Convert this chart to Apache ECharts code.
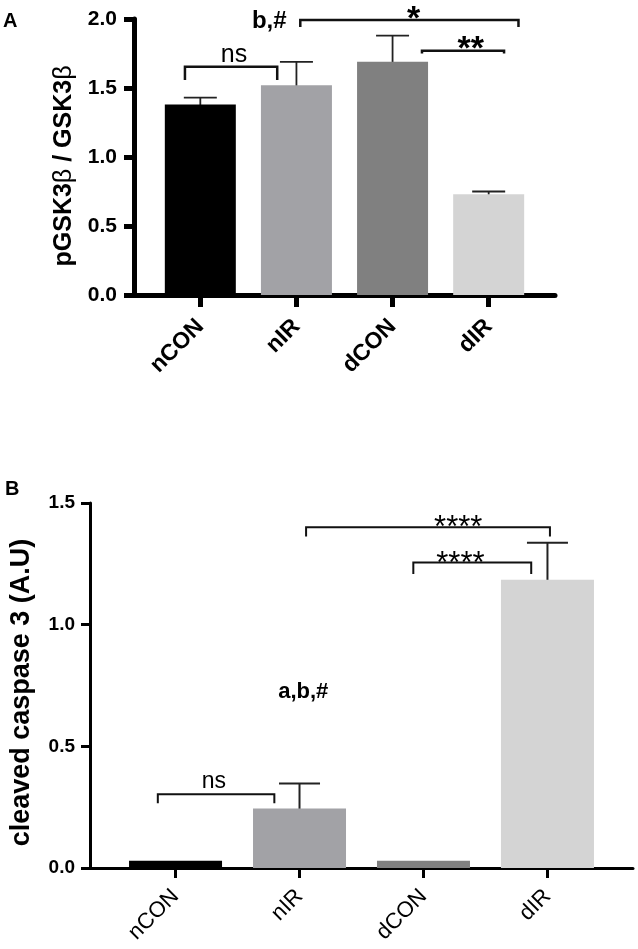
<!DOCTYPE html>
<html>
<head>
<meta charset="utf-8">
<script src="https://cdn.jsdelivr.net/npm/echarts@6/dist/echarts.min.js"></script>
<style>
html,body{margin:0;padding:0;background:#fff;}
#chart{width:638px;height:949px;}
</style>
</head>
<body>
<div id="chart"></div>
<script>
// ---------- data ----------
const categories = ['nCON', 'nIR', 'dCON', 'dIR'];
const catIndex = [0, 1, 2, 3];

// Panel A: pGSK3β / GSK3β
const ratioMeanA = [1.38, 1.52, 1.69, 0.73];
const ratioErrTopA = [1.43, 1.69, 1.88, 0.75];
const yTicksA = [0, 0.5, 1.0, 1.5, 2.0];

// Panel B: cleaved caspase 3 (A.U)
const caspMeanB = [0.03, 0.245, 0.03, 1.185];
const caspErrTopB = [0.03, 0.347, 0.018, 1.337];
const yTicksB = [0, 0.5, 1.0, 1.5];

// significance brackets: [x start, x end, top level, leg end level] in axis units
const bracketsA = [
  [-0.16, 0.80, 1.654, 1.558],
  [1.04, 3.31, 1.993, 1.942],
  [2.306, 3.16, 1.770, 1.750]
];
const notesA = [
  [0.35, 1.74, 'ns'],
  [0.717, 1.986, 'b,#'],
  [2.22, 2.058, '*'],
  [2.813, 1.84, '**']
];
const bracketsB = [
  [-0.143, 0.797, 0.303, 0.266],
  [1.053, 3.02, 1.400, 1.362],
  [1.918, 2.869, 1.255, 1.208]
];
const notesB = [
  [0.31, 0.355, 'ns'],
  [2.28, 1.427, '****'],
  [2.298, 1.279, '****'],
  [1.03, 0.725, 'a,b,#']
];

// ---------- styles ----------
const FONT = '"Liberation Sans", Arial, sans-serif';
const barColors = ['#000000', '#a2a2a6', '#808080', '#d4d4d4'];

function noteStyle(txt, panel) {
  if (txt === 'ns') return {fontSize: panel === 'A' ? 25 : 23, fontWeight: 'normal', dy: 0};
  if (txt.indexOf('*') === 0) {
    const fs = panel === 'A' ? 34 : 31;
    return {fontSize: fs, fontWeight: panel === 'A' ? 'bold' : 'normal', dy: 0.24 * fs};
  }
  return {fontSize: panel === 'A' ? 24 : 22, fontWeight: 'bold', dy: 0};
}

function bracketSeries(gi, list, lw) {
  return {
    type: 'custom', xAxisIndex: gi, yAxisIndex: gi, clip: false, silent: true,
    data: list,
    encode: {x: [0, 1], y: [2, 3]},
    renderItem: function (params, api) {
      const x1 = api.value(0), x2 = api.value(1), yt = api.value(2), yl = api.value(3);
      const a = api.coord([x1, yl]), b = api.coord([x1, yt]), c = api.coord([x2, yt]), d = api.coord([x2, yl]);
      return {type: 'polyline', shape: {points: [a, b, c, d]},
        style: {stroke: '#111', lineWidth: lw, fill: null}};
    }
  };
}

function noteSeries(gi, list, panel) {
  return {
    type: 'custom', xAxisIndex: gi, yAxisIndex: gi, clip: false, silent: true,
    data: list.map(n => [n[0], n[1]]),
    encode: {x: 0, y: 1},
    renderItem: function (params, api) {
      const n = list[params.dataIndex];
      const p = api.coord([n[0], n[1]]);
      const st = noteStyle(n[2], panel);
      return {type: 'text', x: p[0], y: p[1] + st.dy,
        style: {text: n[2], fontSize: st.fontSize, fontWeight: st.fontWeight, fontFamily: FONT,
          fill: '#000', align: 'center', verticalAlign: 'middle'}};
    }
  };
}

function errSeries(gi, means, tops, capW, lw) {
  return {
    type: 'custom', xAxisIndex: gi, yAxisIndex: gi, clip: false, silent: true,
    data: catIndex.map(i => [i, means[i], tops[i]]),
    encode: {x: 0, y: [1, 2]},
    renderItem: function (params, api) {
      const x = api.value(0), m = api.value(1), t = api.value(2);
      if (m === t) return null;
      const pm = api.coord([x, m]), pt = api.coord([x, t]);
      const up = pt[1] < pm[1];
      const children = [
        {type: 'line', shape: {x1: pt[0] - capW / 2, y1: pt[1], x2: pt[0] + capW / 2, y2: pt[1]},
          style: {stroke: '#222', lineWidth: lw}}
      ];
      if (up) {
        children.push({type: 'line', shape: {x1: pm[0], y1: pm[1] + 4, x2: pt[0], y2: pt[1]},
          style: {stroke: '#222', lineWidth: lw}});
      }
      return {type: 'group', children: children};
    }
  };
}

function barSeries(gi, means, bw) {
  return {
    type: 'bar', xAxisIndex: gi, yAxisIndex: gi, barWidth: bw, silent: true,
    data: catIndex.map(i => ({value: [i, means[i]], itemStyle: {color: barColors[i]}}))
  };
}

const option = {
  animation: false,
  backgroundColor: '#fff',
  textStyle: {fontFamily: FONT},
  grid: [
    {left: 134, top: 19, width: 421, height: 276, containLabel: false},
    {left: 80, top: 503, width: 553, height: 365, containLabel: false}
  ],
  xAxis: [
    {
      type: 'value', gridIndex: 0, min: -0.69, max: 3.69,
      splitLine: {show: false},
      axisLine: {show: true, onZero: false, lineStyle: {color: '#000', width: 5}},
      axisTick: {show: true, customValues: catIndex, length: 12, lineStyle: {color: '#000', width: 5}},
      axisLabel: {customValues: catIndex, formatter: v => categories[Math.round(v)], rotate: 45,
        margin: 28, fontSize: 23, fontWeight: 'bold', color: '#000', fontFamily: FONT}
    },
    {
      type: 'value', gridIndex: 1, min: -0.69, max: 3.69,
      splitLine: {show: false},
      axisLine: {show: true, onZero: false, lineStyle: {color: '#000', width: 3}},
      axisTick: {show: true, customValues: catIndex, length: 10, lineStyle: {color: '#000', width: 3}},
      axisLabel: {customValues: catIndex, formatter: v => categories[Math.round(v)], rotate: 45,
        margin: 25, fontSize: 22, fontWeight: 'normal', color: '#000', fontFamily: FONT}
    }
  ],
  yAxis: [
    {
      type: 'value', gridIndex: 0, min: 0, max: 2,
      splitLine: {show: false},
      axisLine: {show: true, onZero: false, lineStyle: {color: '#000', width: 5}},
      axisTick: {show: true, customValues: yTicksA, length: 10, lineStyle: {color: '#000', width: 5}},
      axisLabel: {customValues: yTicksA, formatter: v => v.toFixed(1), margin: 17,
        fontSize: 21, fontWeight: 'bold', color: '#000', fontFamily: FONT},
      name: 'pGSK3{b|β} / GSK3{b|β}', nameLocation: 'middle', nameRotate: 90, nameGap: 55,
      nameTextStyle: {fontSize: 25, fontWeight: 'bold', color: '#000', fontFamily: FONT,
        padding: [0, 18, 0, 0],
        rich: {b: {fontSize: 25, fontWeight: 'normal', color: '#000', fontFamily: FONT}}}
    },
    {
      type: 'value', gridIndex: 1, min: 0, max: 1.5,
      splitLine: {show: false},
      axisLine: {show: true, onZero: false, lineStyle: {color: '#000', width: 3}},
      axisTick: {show: true, customValues: yTicksB, length: 9, lineStyle: {color: '#000', width: 3}},
      axisLabel: {customValues: yTicksB, formatter: v => v.toFixed(1), margin: 15,
        fontSize: 19, fontWeight: 'bold', color: '#000', fontFamily: FONT},
      name: 'cleaved caspase 3 (A.U)', nameLocation: 'middle', nameRotate: 90, nameGap: 55,
      nameTextStyle: {fontSize: 27, fontWeight: 'bold', color: '#000', fontFamily: FONT,
        padding: [0, 14, 0, 0]}
    }
  ],
  graphic: [
    {type: 'text', left: 3, top: 11, style: {text: 'A', fontSize: 20, fontWeight: 'bold', fill: '#000', fontFamily: FONT}},
    {type: 'text', left: 5, top: 479, style: {text: 'B', fontSize: 20, fontWeight: 'bold', fill: '#000', fontFamily: FONT}}
  ],
  series: [
    barSeries(0, ratioMeanA, 71),
    errSeries(0, ratioMeanA, ratioErrTopA, 33, 1.8),
    bracketSeries(0, bracketsA, 2.5),
    noteSeries(0, notesA, 'A'),
    barSeries(1, caspMeanB, 93),
    errSeries(1, caspMeanB, caspErrTopB, 41, 2),
    bracketSeries(1, bracketsB, 2),
    noteSeries(1, notesB, 'B')
  ]
};

const chart = echarts.init(document.getElementById('chart'), null, {renderer: 'canvas'});
chart.setOption(option);
</script>
</body>
</html>
